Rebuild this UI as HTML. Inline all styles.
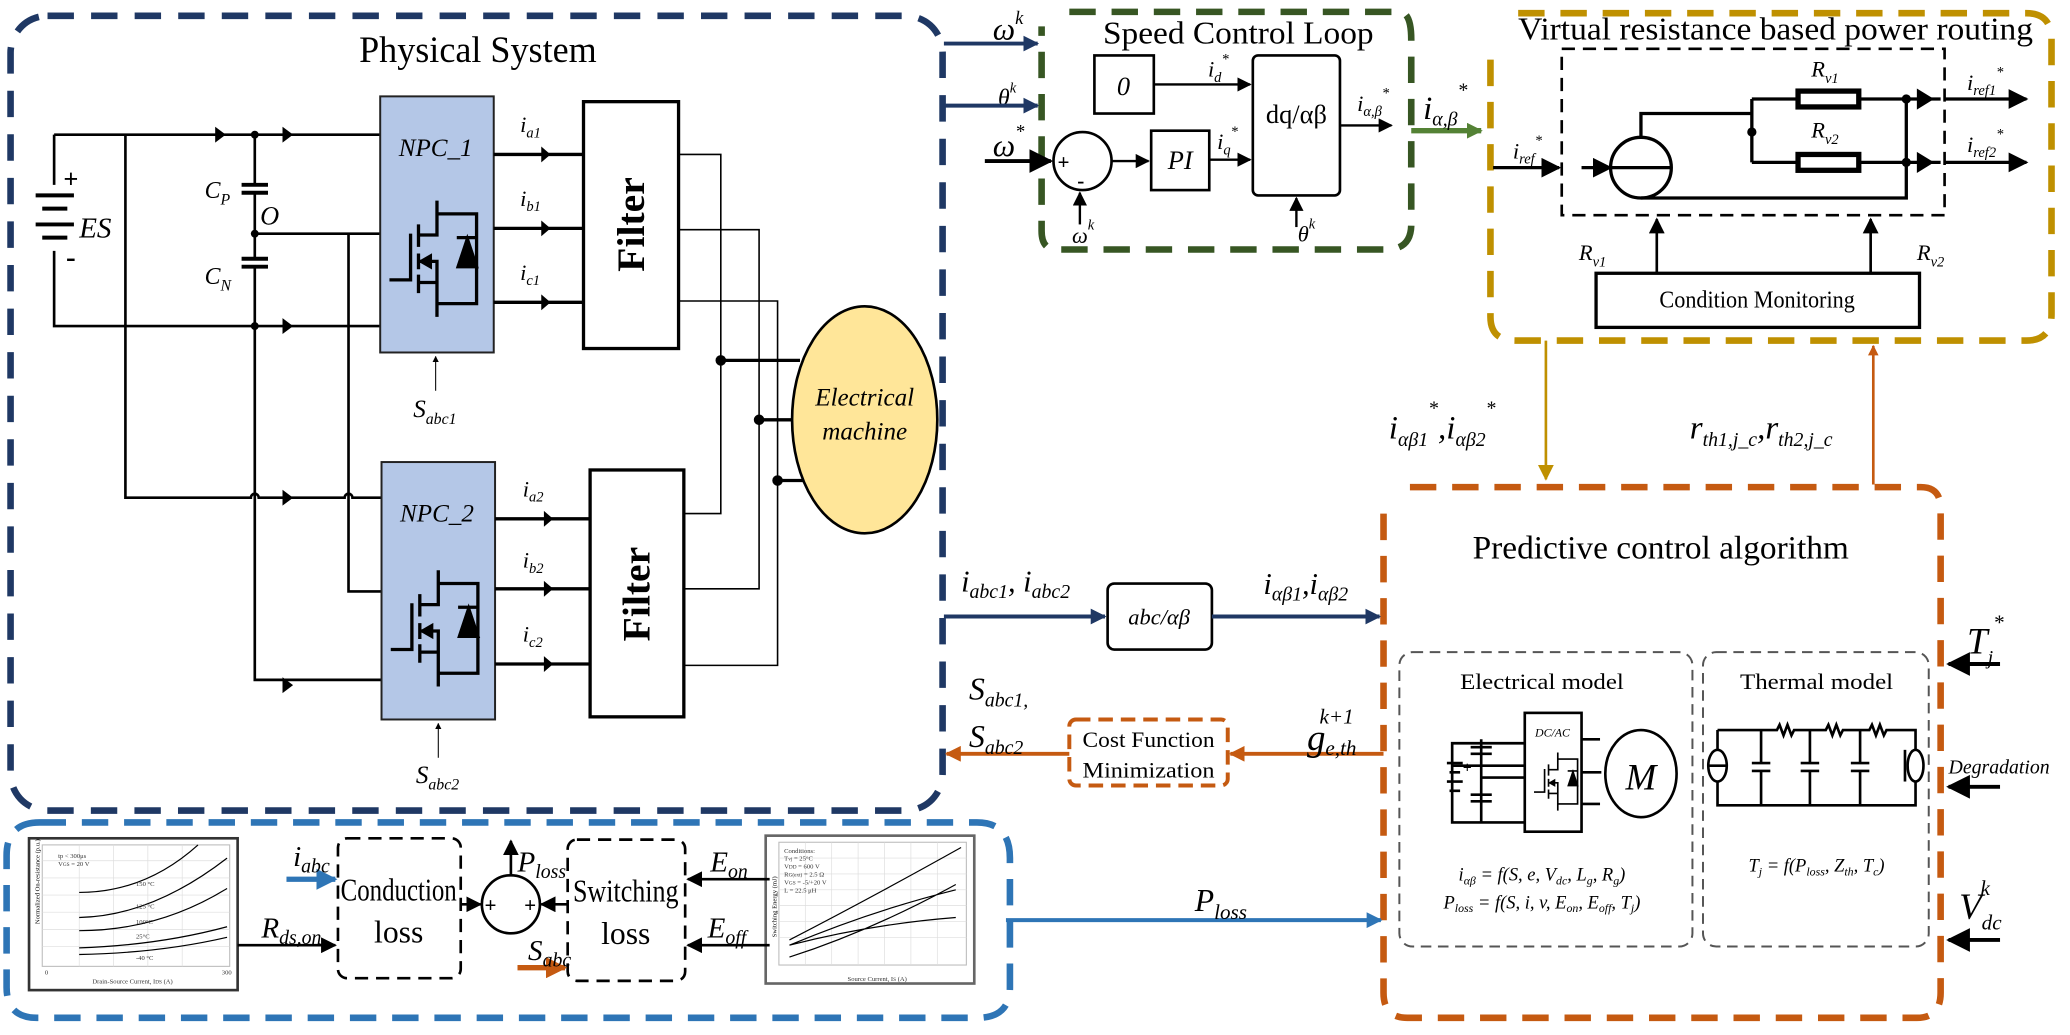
<!DOCTYPE html>
<html><head><meta charset="utf-8"><style>
html,body{margin:0;padding:0;background:#fff;}
svg{display:block;}
text{font-family:"Liberation Serif",serif;}
.i{font-style:italic;}
</style></head><body>
<svg width="2070" height="1035" viewBox="0 0 1568 784" preserveAspectRatio="none" xmlns="http://www.w3.org/2000/svg">
<defs>
<marker id="a" viewBox="0 0 10 10" refX="9" refY="5" markerWidth="6" markerHeight="6" orient="auto-start-reverse"><path d="M0,0L10,5L0,10z" fill="#000"/></marker>
<marker id="ab" viewBox="0 0 10 10" refX="9" refY="5" markerWidth="4" markerHeight="4" orient="auto"><path d="M0,0L10,5L0,10z" fill="#1f3864"/></marker>
<marker id="al" viewBox="0 0 10 10" refX="9" refY="5" markerWidth="4" markerHeight="4" orient="auto"><path d="M0,0L10,5L0,10z" fill="#2e75b6"/></marker>
<marker id="ao" viewBox="0 0 10 10" refX="9" refY="5" markerWidth="4" markerHeight="4" orient="auto"><path d="M0,0L10,5L0,10z" fill="#c55a11"/></marker>
<marker id="ag" viewBox="0 0 10 10" refX="9" refY="5" markerWidth="6" markerHeight="6" orient="auto"><path d="M0,0L10,5L0,10z" fill="#bf9000"/></marker>
<marker id="agr" viewBox="0 0 10 10" refX="9" refY="5" markerWidth="3" markerHeight="3" orient="auto"><path d="M0,0L10,5L0,10z" fill="#548235"/></marker>
<g id="mos" fill="none" stroke="#000" stroke-width="2.5">
<path d="M0,60 H16 V25 M22,18 V35 M22,40 V52 M22,56 V70 M22,26 H36 V0 M22,62 H36 V88 M36,10 H66 V78 H36 M22,46 H36 V62"/>
<path d="M51,28 H66 M52,50 L59,29 L66,50z" fill="#000"/>
<path d="M24,46 l7,-4 v8z" fill="#000"/>
</g>
</defs>

<!-- Physical system box -->
<rect x="8" y="12" width="706" height="602" rx="28" fill="none" stroke="#1f3864" stroke-width="5" stroke-dasharray="20 13"/>
<text x="362" y="47" font-size="28" text-anchor="middle" textLength="180" lengthAdjust="spacingAndGlyphs">Physical System</text>

<g stroke="#000" stroke-width="2" fill="none">
<path d="M41,102 H288 M41,102 V140 M41,190 V247 H288 M95,102 V377 H190 a3,3 0 0 1 6,0 H261 a3,3 0 0 1 6,0 H289"/>
<path d="M193,102 V140 M193,146 V196 M193,202 V515 H289 M193,177 H288 M264,177 V448 H289"/>
</g>
<g stroke="#000" stroke-width="3">
<path d="M27,148 H56 M32,158 H51 M27,170 H56 M32,180 H51"/>
<path d="M183,140 H203 M183,146 H203 M183,196 H203 M183,202 H203"/>
</g>
<circle cx="193" cy="102" r="3"/><circle cx="193" cy="177" r="3"/><circle cx="193" cy="247" r="3"/>
<g fill="#000"><path d="M163,96l8,6l-8,6z M214,96l8,6l-8,6z M214,241l8,6l-8,6z M214,371l8,6l-8,6z M214,513l8,6l-8,6z"/></g>
<text x="48" y="142" font-size="20" font-weight="bold">+</text><text x="50" y="202" font-size="22" font-weight="bold">-</text>
<text x="60" y="180" font-size="22" class="i">ES</text>
<text x="155" y="150" font-size="18" class="i">C<tspan font-size="12" dy="5">P</tspan></text>
<text x="197" y="170" font-size="20" class="i">O</text>
<text x="155" y="215" font-size="18" class="i">C<tspan font-size="12" dy="5">N</tspan></text>

<!-- NPC1 -->
<rect x="288" y="73" width="86" height="194" fill="#b4c7e7" stroke="#222" stroke-width="1.5"/>
<text x="330" y="118" font-size="19" class="i" text-anchor="middle">NPC_1</text>
<use href="#mos" x="295" y="152"/>
<!-- NPC2 -->
<rect x="289" y="350" width="86" height="195" fill="#b4c7e7" stroke="#222" stroke-width="1.5"/>
<text x="331" y="395" font-size="19" class="i" text-anchor="middle">NPC_2</text>
<use href="#mos" x="296" y="432"/>

<g stroke="#000" stroke-width="2.5" fill="none">
<path d="M374,117 H442 M374,173 H442 M374,229 H442 M375,393 H447 M375,446 H447 M375,503 H447"/>
</g>
<g fill="#000"><path d="M410,111l7,6l-7,6z M410,167l7,6l-7,6z M410,223l7,6l-7,6z M412,387l7,6l-7,6z M412,440l7,6l-7,6z M412,497l7,6l-7,6z"/></g>
<g font-size="17" class="i"><text x="394" y="100">i<tspan font-size="11" dy="4">a1</tspan></text><text x="394" y="156">i<tspan font-size="11" dy="4">b1</tspan></text><text x="394" y="212">i<tspan font-size="11" dy="4">c1</tspan></text>
<text x="396" y="376">i<tspan font-size="11" dy="4">a2</tspan></text><text x="396" y="430">i<tspan font-size="11" dy="4">b2</tspan></text><text x="396" y="486">i<tspan font-size="11" dy="4">c2</tspan></text></g>

<rect x="442" y="77" width="72" height="187" fill="#fff" stroke="#000" stroke-width="2.5"/>
<rect x="447" y="356" width="71" height="187" fill="#fff" stroke="#000" stroke-width="2.5"/>
<text transform="translate(488,170) rotate(-90)" font-size="30" font-weight="bold" text-anchor="middle">Filter</text>
<text transform="translate(492,450) rotate(-90)" font-size="30" font-weight="bold" text-anchor="middle">Filter</text>

<g stroke="#000" stroke-width="1.2" fill="none">
<path d="M514,117 H546 V389 H518 M514,174 H575 V446 H518 M514,228 H589 V504 H518"/>
</g>
<g stroke="#000" stroke-width="2.5"><path d="M546,273 H606 M575,318 H600 M589,364 H609"/></g>
<circle cx="546" cy="273" r="4"/><circle cx="575" cy="318" r="4"/><circle cx="589" cy="364" r="4"/>
<ellipse cx="655" cy="318" rx="55" ry="86" fill="#ffe699" stroke="#000" stroke-width="2"/>
<text x="655" y="307" font-size="19" class="i" text-anchor="middle">Electrical</text>
<text x="655" y="333" font-size="19" class="i" text-anchor="middle">machine</text>

<path d="M330,296 V270" stroke="#000" stroke-width="0.8" marker-end="url(#a)"/>
<text x="313" y="316" font-size="19" class="i">S<tspan font-size="12" dy="5">abc1</tspan></text>
<path d="M332,574 V548" stroke="#000" stroke-width="0.8" marker-end="url(#a)"/>
<text x="315" y="593" font-size="19" class="i">S<tspan font-size="12" dy="5">abc2</tspan></text>

<!-- Speed control loop -->
<path d="M810,9 H1060 Q1069,9 1069,30 V170 Q1069,189 1050,189 H800 Q789,189 789,175 V20" fill="none" stroke="#375623" stroke-width="5" stroke-dasharray="20 12"/>
<text x="938" y="33" font-size="24" text-anchor="middle" textLength="205" lengthAdjust="spacingAndGlyphs">Speed Control Loop</text>
<rect x="829" y="42" width="45" height="44" fill="#fff" stroke="#000" stroke-width="2"/>
<text x="851" y="72" font-size="20" class="i" text-anchor="middle">0</text>
<rect x="949" y="42" width="66" height="106" rx="4" fill="#fff" stroke="#000" stroke-width="2"/>
<text x="982" y="93" font-size="20" text-anchor="middle">dq/αβ</text>
<rect x="872" y="99" width="44" height="45" fill="#fff" stroke="#000" stroke-width="2"/>
<text x="894" y="128" font-size="20" class="i" text-anchor="middle">PI</text>
<ellipse cx="820" cy="122" rx="22" ry="22" fill="#fff" stroke="#000" stroke-width="2"/>
<text x="801" y="128" font-size="16" font-weight="bold">+</text><text x="816" y="142" font-size="16" font-weight="bold">-</text>
<g stroke="#000" stroke-width="1.8" fill="none">
<path d="M874,64 H947" marker-end="url(#a)"/><path d="M842,122 H870" marker-end="url(#a)"/>
<path d="M916,121 H947" marker-end="url(#a)"/><path d="M1015,95 H1054" marker-end="url(#a)"/>
<path d="M818,170 V146" marker-end="url(#a)"/><path d="M982,172 V150" marker-end="url(#a)"/>
</g>
<path d="M746,122 H796" stroke="#000" stroke-width="3" marker-end="url(#a)"/>
<g font-size="17" class="i"><text x="915" y="58">i<tspan font-size="11" dy="4">d</tspan><tspan font-size="11" dy="-14">*</tspan></text>
<text x="922" y="113">i<tspan font-size="11" dy="4">q</tspan><tspan font-size="11" dy="-14">*</tspan></text>
<text x="1028" y="84">i<tspan font-size="11" dy="4">α,β</tspan><tspan font-size="11" dy="-14">*</tspan></text>
<text x="812" y="184">ω<tspan font-size="11" dy="-10">k</tspan></text>
<text x="983" y="183">θ<tspan font-size="11" dy="-10">k</tspan></text></g>
<text x="752" y="118" font-size="24" class="i">ω<tspan font-size="14" dy="-14">*</tspan></text>
<text x="752" y="30" font-size="24" class="i">ω<tspan font-size="14" dy="-12">k</tspan></text>
<text x="756" y="80" font-size="18" class="i">θ<tspan font-size="11" dy="-10">k</tspan></text>
<path d="M715,33 H786" stroke="#1f3864" stroke-width="3" marker-end="url(#ab)"/>
<path d="M715,80 H786" stroke="#1f3864" stroke-width="3" marker-end="url(#ab)"/>
<path d="M1069,99 H1122" stroke="#548235" stroke-width="4" marker-end="url(#agr)"/>
<text x="1078" y="90" font-size="25" class="i">i<tspan font-size="15" dy="5">α,β</tspan><tspan font-size="15" dy="-22">*</tspan></text>

<!-- Virtual resistance -->
<path d="M1150,10 H1535 Q1554,10 1554,30 V238 Q1554,258 1535,258 H1148 Q1129,258 1129,240 V40" fill="none" stroke="#bf9000" stroke-width="5" stroke-dasharray="20 12"/>
<text x="1345" y="30" font-size="24" text-anchor="middle" textLength="390" lengthAdjust="spacingAndGlyphs">Virtual resistance based power routing</text>
<rect x="1183" y="37" width="290" height="126" fill="none" stroke="#000" stroke-width="2" stroke-dasharray="10 6"/>
<path d="M1131,127 H1181" stroke="#000" stroke-width="2.5" marker-end="url(#a)"/>
<path d="M1198,127 H1220" stroke="#000" stroke-width="2.5" marker-end="url(#a)"/>
<circle cx="1243" cy="127" r="23" fill="#fff" stroke="#000" stroke-width="2.5"/>
<path d="M1220,127 H1266" stroke="#000" stroke-width="2.5"/>
<g stroke="#000" stroke-width="2.5" fill="none">
<path d="M1243,104 V86 H1327 M1327,75 V123 M1327,75 H1361 M1409,75 H1470 M1327,123 H1361 M1409,123 H1470 M1243,150 H1444 V75"/>
<path d="M1473,75 H1535" marker-end="url(#a)"/><path d="M1473,123 H1535" marker-end="url(#a)"/>
</g>
<rect x="1362" y="69" width="46" height="12" fill="#fff" stroke="#000" stroke-width="4"/>
<rect x="1362" y="117" width="46" height="12" fill="#fff" stroke="#000" stroke-width="4"/>
<circle cx="1327" cy="100" r="3.5"/><circle cx="1444" cy="75" r="3.5"/><circle cx="1444" cy="123" r="3.5"/>
<path d="M1452,67 l13,8 l-13,8z M1452,115 l13,8 l-13,8z"/>
<g font-size="17" class="i"><text x="1372" y="58">R<tspan font-size="11" dy="5">v1</tspan></text><text x="1372" y="104">R<tspan font-size="11" dy="5">v2</tspan></text>
<text x="1146" y="120">i<tspan font-size="11" dy="4">ref</tspan><tspan font-size="11" dy="-14">*</tspan></text>
<text x="1490" y="68">i<tspan font-size="11" dy="4">ref1</tspan><tspan font-size="11" dy="-14">*</tspan></text>
<text x="1490" y="115">i<tspan font-size="11" dy="4">ref2</tspan><tspan font-size="11" dy="-14">*</tspan></text>
<text x="1196" y="197">R<tspan font-size="11" dy="5">v1</tspan></text><text x="1452" y="197">R<tspan font-size="11" dy="5">v2</tspan></text></g>
<rect x="1209" y="207" width="245" height="41" fill="#fff" stroke="#000" stroke-width="2.5"/>
<text x="1331" y="233" font-size="18" text-anchor="middle" textLength="148" lengthAdjust="spacingAndGlyphs">Condition Monitoring</text>
<path d="M1255,207 V166" stroke="#000" stroke-width="2" marker-end="url(#a)"/>
<path d="M1417,207 V166" stroke="#000" stroke-width="2" marker-end="url(#a)"/>

<path d="M1171,258 V363" stroke="#bf9000" stroke-width="2" marker-end="url(#ag)"/>
<path d="M1419,367 V262" stroke="#c55a11" stroke-width="2" marker-end="url(#ao)"/>
<text x="1052" y="332" font-size="25" class="i">i<tspan font-size="15" dy="6">αβ1</tspan><tspan font-size="15" dy="-24">*</tspan><tspan dy="18">,i</tspan><tspan font-size="15" dy="6">αβ2</tspan><tspan font-size="15" dy="-24">*</tspan></text>
<text x="1280" y="332" font-size="25" class="i">r<tspan font-size="15" dy="6">th1,j_c</tspan><tspan dy="-6">,r</tspan><tspan font-size="15" dy="6">th2,j_c</tspan></text>

<!-- Predictive control -->
<path d="M1068,369 H1455 Q1470,369 1470,385 V752 Q1470,771 1452,771 H1066 Q1048,771 1048,752 V385" fill="none" stroke="#c55a11" stroke-width="5" stroke-dasharray="20 12"/>
<text x="1258" y="423" font-size="25" text-anchor="middle" textLength="285" lengthAdjust="spacingAndGlyphs">Predictive control algorithm</text>
<rect x="1060" y="494" width="222" height="223" rx="10" fill="none" stroke="#555" stroke-width="1.5" stroke-dasharray="8 5"/>
<rect x="1290" y="494" width="171" height="223" rx="10" fill="none" stroke="#555" stroke-width="1.5" stroke-dasharray="8 5"/>
<text x="1168" y="522" font-size="17" text-anchor="middle" textLength="124" lengthAdjust="spacingAndGlyphs">Electrical model</text>
<text x="1376" y="522" font-size="17" text-anchor="middle" textLength="116" lengthAdjust="spacingAndGlyphs">Thermal model</text>
<!-- electrical mini circuit -->
<g stroke="#000" stroke-width="2" fill="none">
<path d="M1100,580 H1155 M1100,580 V623 H1155 M1100,580 V563 H1155 M1122,560 V623 M1122,589 H1155"/>
<path d="M1096,578 H1108 M1098,585 H1106 M1096,592 H1108 M1098,599 H1106 M1114,566 H1130 M1114,571 H1130 M1114,602 H1130 M1114,607 H1130"/>
<rect x="1155" y="540" width="43" height="90" fill="#fff"/>
<path d="M1198,560 H1212 M1198,585 H1213 M1198,609 H1212"/>
</g>
<text x="1176" y="558" font-size="9" class="i" text-anchor="middle">DC/AC</text>
<use href="#mos" transform="translate(1162,570) scale(0.5)"/>
<text x="1108" y="585" font-size="12" font-weight="bold">+</text>
<ellipse cx="1243" cy="586" rx="27" ry="33" fill="#fff" stroke="#000" stroke-width="2"/>
<text x="1243" y="598" font-size="28" class="i" text-anchor="middle">M</text>
<!-- thermal mini circuit -->
<g stroke="#000" stroke-width="2" fill="none">
<path d="M1301,553 H1346 l2,-4 l3,8 l3,-8 l3,8 l2,-4 H1383 l2,-4 l3,8 l3,-8 l3,8 l2,-4 H1416 l2,-4 l3,8 l3,-8 l3,8 l2,-4 H1451 V610 H1301 V592 M1301,553 V568"/>
<path d="M1334,553 V578 M1334,584 V610 M1327,578 H1341 M1327,584 H1341 M1371,553 V578 M1371,584 V610 M1364,578 H1378 M1364,584 H1378 M1409,553 V578 M1409,584 V610 M1402,578 H1416 M1402,584 H1416"/>
</g>
<ellipse cx="1301" cy="580" rx="7" ry="12" fill="#fff" stroke="#000" stroke-width="2"/>
<path d="M1294,580 H1308" stroke="#000" stroke-width="2"/>
<ellipse cx="1451" cy="580" rx="6" ry="12" fill="#fff" stroke="#000" stroke-width="2"/>
<path d="M1443,568 V592" stroke="#000" stroke-width="2"/>
<g font-size="14" class="i">
<text x="1168" y="667" text-anchor="middle">i<tspan font-size="9" dy="3">αβ</tspan><tspan dy="-3"> = f(S, e, V</tspan><tspan font-size="9" dy="3">dc</tspan><tspan dy="-3">, L</tspan><tspan font-size="9" dy="3">g</tspan><tspan dy="-3">, R</tspan><tspan font-size="9" dy="3">g</tspan><tspan dy="-3">)</tspan></text>
<text x="1168" y="688" text-anchor="middle">P<tspan font-size="9" dy="3">loss</tspan><tspan dy="-3"> = f(S, i, v, E</tspan><tspan font-size="9" dy="3">on</tspan><tspan dy="-3">, E</tspan><tspan font-size="9" dy="3">off</tspan><tspan dy="-3">, T</tspan><tspan font-size="9" dy="3">j</tspan><tspan dy="-3">)</tspan></text>
<text x="1376" y="660" text-anchor="middle">T<tspan font-size="9" dy="3">j</tspan><tspan dy="-3"> = f(P</tspan><tspan font-size="9" dy="3">loss</tspan><tspan dy="-3">, Z</tspan><tspan font-size="9" dy="3">th</tspan><tspan dy="-3">, T</tspan><tspan font-size="9" dy="3">c</tspan><tspan dy="-3">)</tspan></text>
</g>
<g stroke="#000" stroke-width="3"><path d="M1515,503 H1476" marker-end="url(#a)"/><path d="M1515,596 H1476" marker-end="url(#a)"/><path d="M1515,712 H1476" marker-end="url(#a)"/></g>
<text x="1490" y="495" font-size="28" class="i">T<tspan font-size="15" dy="8">j</tspan><tspan font-size="16" dy="-26">*</tspan></text>
<text x="1476" y="586" font-size="15" class="i">Degradation</text>
<text x="1484" y="696" font-size="28" class="i">V<tspan font-size="16" dy="8">dc</tspan><tspan font-size="16" dy="-26" dx="-16">k</tspan></text>

<!-- abc/ab -->
<rect x="839" y="442" width="79" height="50" rx="5" fill="#fff" stroke="#000" stroke-width="2"/>
<text x="878" y="473" font-size="17" class="i" text-anchor="middle">abc/αβ</text>
<path d="M715,467 H837" stroke="#1f3864" stroke-width="3" marker-end="url(#ab)"/>
<path d="M918,467 H1045" stroke="#1f3864" stroke-width="3" marker-end="url(#ab)"/>
<text x="728" y="448" font-size="23" class="i">i<tspan font-size="15" dy="5">abc1</tspan><tspan dy="-5">, i</tspan><tspan font-size="15" dy="5">abc2</tspan></text>
<text x="957" y="450" font-size="23" class="i">i<tspan font-size="15" dy="5">αβ1</tspan><tspan dy="-5">,i</tspan><tspan font-size="15" dy="5">αβ2</tspan></text>

<!-- cost function -->
<rect x="810" y="545" width="120" height="50" rx="5" fill="#fff" stroke="#c55a11" stroke-width="3" stroke-dasharray="11 6"/>
<text x="870" y="566" font-size="17" text-anchor="middle" textLength="100" lengthAdjust="spacingAndGlyphs">Cost Function</text>
<text x="870" y="589" font-size="17" text-anchor="middle" textLength="100" lengthAdjust="spacingAndGlyphs">Minimization</text>
<path d="M1048,571 H932" stroke="#c55a11" stroke-width="3" marker-end="url(#ao)"/>
<path d="M810,571 H717" stroke="#c55a11" stroke-width="3" marker-end="url(#ao)"/>
<text x="734" y="530" font-size="24" class="i">S<tspan font-size="15" dy="5">abc1,</tspan></text>
<text x="734" y="566" font-size="24" class="i">S<tspan font-size="15" dy="5">abc2</tspan></text>
<text x="990" y="568" font-size="28" class="i">g<tspan font-size="16" dy="4">e,th</tspan><tspan font-size="16" dy="-24" dx="-28">k+1</tspan></text>

<!-- P_loss line -->
<path d="M762,697 H1046" stroke="#2e75b6" stroke-width="3" marker-end="url(#al)"/>
<text x="905" y="690" font-size="24" class="i">P<tspan font-size="16" dy="6">loss</tspan></text>

<!-- bottom loss box -->
<path d="M30,623 H740 Q765,623 765,650 V748 Q765,771 740,771 H28 Q5,771 5,748 V648 Q5,623 30,623" fill="none" stroke="#2e75b6" stroke-width="5" stroke-dasharray="20 12"/>
<!-- graph 1 -->
<rect x="22" y="635" width="158" height="115" fill="#fff" stroke="#333" stroke-width="2"/>
<rect x="32" y="640" width="142" height="92" fill="none" stroke="#bbb" stroke-width="0.8"/>
<g stroke="#ddd" stroke-width="0.5"><path d="M32,652H174M32,665H174M32,678H174M32,691H174M32,704H174M32,717H174M60,640V732M86,640V732M112,640V732M138,640V732"/></g>
<g stroke="#000" stroke-width="0.9" fill="none"><path d="M60,676 Q110,676 150,640 M60,695 Q115,694 172,650 M60,705 Q120,705 172,673 M60,718 Q120,716 172,702 M60,723 Q120,722 172,710"/></g>
<g font-size="5" fill="#333"><text x="70" y="745">Drain-Source Current, I<tspan font-size="4">DS</tspan> (A)</text><text x="34" y="738">0</text><text x="168" y="738">300</text><text x="44" y="650">tp &lt; 300μs</text><text x="44" y="656">V<tspan font-size="4">GS</tspan> = 20 V</text><text x="103" y="671">150 °C</text><text x="103" y="688">125 °C</text><text x="103" y="700">100°C</text><text x="103" y="711">25°C</text><text x="103" y="727">-40 °C</text></g>
<text transform="translate(30,700) rotate(-90)" font-size="5">Normalized On-resistance (p.u.)</text>
<!-- graph 2 -->
<rect x="580" y="633" width="158" height="112" fill="#fff" stroke="#666" stroke-width="2"/>
<rect x="590" y="638" width="142" height="93" fill="none" stroke="#bbb" stroke-width="0.8"/>
<g stroke="#ddd" stroke-width="0.5"><path d="M590,650H732M590,662H732M590,674H732M590,686H732M590,698H732M590,710H732M610,638V731M630,638V731M650,638V731M670,638V731M690,638V731M710,638V731"/></g>
<g stroke="#000" stroke-width="0.9" fill="none"><path d="M598,712 Q660,680 728,642 M598,716 Q660,690 724,674 M598,716 Q660,700 724,695 M598,725 Q660,705 724,670"/></g>
<g font-size="5" fill="#333"><text x="642" y="743">Source Current, I<tspan font-size="4">S</tspan> (A)</text><text x="594" y="646">Conditions:</text><text x="594" y="652">T<tspan font-size="4">vj</tspan> = 25°C</text><text x="594" y="658">V<tspan font-size="4">DD</tspan> = 600 V</text><text x="594" y="664">R<tspan font-size="4">G(ext)</tspan> = 2.5 Ω</text><text x="594" y="670">V<tspan font-size="4">GS</tspan> = -5/+20 V</text><text x="594" y="676">L = 22.5 μH</text></g>
<text transform="translate(588,710) rotate(-90)" font-size="5">Switching Energy (mJ)</text>
<!-- loss blocks -->
<rect x="256" y="635" width="93" height="106" rx="7" fill="none" stroke="#000" stroke-width="2" stroke-dasharray="10 6"/>
<rect x="430" y="636" width="89" height="107" rx="7" fill="none" stroke="#000" stroke-width="2" stroke-dasharray="10 6"/>
<text x="302" y="682" font-size="24" text-anchor="middle" textLength="88" lengthAdjust="spacingAndGlyphs">Conduction</text>
<text x="302" y="714" font-size="24" text-anchor="middle">loss</text>
<text x="474" y="683" font-size="24" text-anchor="middle" textLength="80" lengthAdjust="spacingAndGlyphs">Switching</text>
<text x="474" y="715" font-size="24" text-anchor="middle">loss</text>
<ellipse cx="387" cy="685" rx="22" ry="22" fill="#fff" stroke="#000" stroke-width="2"/>
<text x="367" y="691" font-size="16" font-weight="bold">+</text><text x="397" y="691" font-size="16" font-weight="bold">+</text>
<g stroke="#000" stroke-width="2" fill="none">
<path d="M349,685 H364" marker-end="url(#a)"/><path d="M430,685 H410" marker-end="url(#a)"/>
<path d="M387,663 V637" marker-end="url(#a)"/>
<path d="M583,666 H521" marker-end="url(#a)"/><path d="M583,716 H521" marker-end="url(#a)"/>
<path d="M180,716 H254" marker-end="url(#a)"/>
</g>
<path d="M217,666 H254" stroke="#2e75b6" stroke-width="4" marker-end="url(#al)"/>
<path d="M392,733 H428" stroke="#c55a11" stroke-width="4" marker-end="url(#ao)"/>
<g class="i"><text x="392" y="660" font-size="22">P<tspan font-size="15" dy="5">loss</tspan></text>
<text x="222" y="656" font-size="22">i<tspan font-size="15" dy="5">abc</tspan></text>
<text x="198" y="710" font-size="22">R<tspan font-size="15" dy="5">ds,on</tspan></text>
<text x="538" y="660" font-size="22">E<tspan font-size="15" dy="5">on</tspan></text>
<text x="536" y="710" font-size="22">E<tspan font-size="15" dy="5">off</tspan></text>
<text x="400" y="727" font-size="22">S<tspan font-size="15" dy="5">abc</tspan></text></g>
</svg>
</body></html>
